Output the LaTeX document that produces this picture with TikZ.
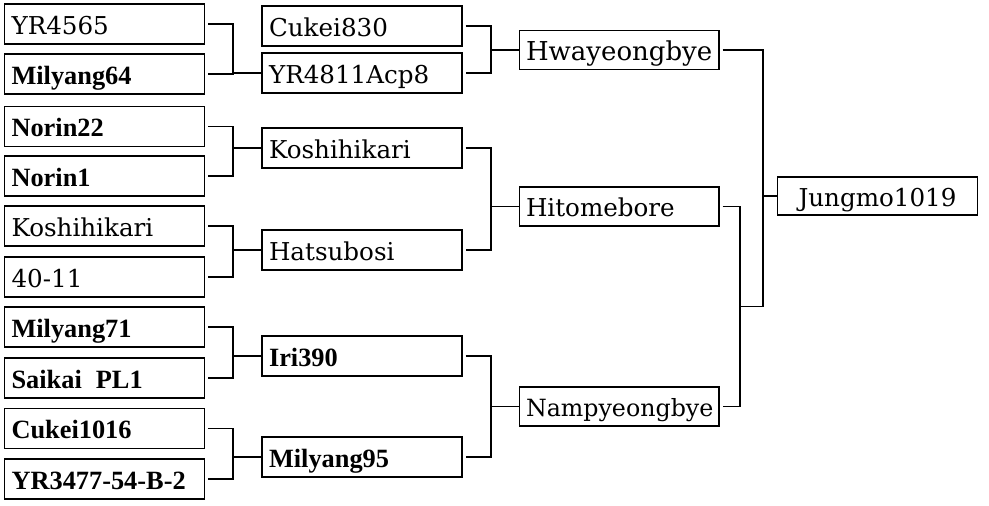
\documentclass[tikz,border=0pt]{standalone}
\usepackage{fontspec}
\setmainfont{DejaVu Serif}
\newfontfamily\heavyserif{Liberation Serif}
\usetikzlibrary{calc}
\tikzset{
  cultivar/.style={
    draw,
    line width=0.6pt,
    minimum width=4cm,
    minimum height=0.8cm,
    inner xsep=0.14cm,
    text width=3.72cm,
    align=left,
    text height=12pt,
    text depth=0.6pt,
    font=\fontsize{14}{16}\selectfont
  },
  cultivarBold/.style={
    cultivar,
    font=\heavyserif\bfseries\fontsize{15}{17}\selectfont
  },
  pairLine/.style={line width=0.6pt},
  pairStub/.style={pairLine, shorten <=0.06cm},
  pairLink/.style={pairStub, shorten >=0.06cm}
}
\begin{document}
\begin{tikzpicture}[x=0.02cm, y=-0.02cm]
  \useasboundingbox (0,0) rectangle (989,506);
  % parents
  \node[cultivar] (yr4565) at (104.5,24) {YR4565};
  \node[cultivarBold] (milyang64) at (104.5,74) {Milyang64};
  \node[cultivarBold] (norin22) at (104.5,126.5) {Norin22};
  \node[cultivarBold] (norin1) at (104.5,176) {Norin1};
  \node[cultivar] (koshihikariA) at (104.5,226) {Koshihikari};
  \node[cultivar] (line4011) at (104.5,277) {40-11};
  \node[cultivarBold] (milyang71) at (104.5,327) {Milyang71};
  \node[cultivarBold] (saikai) at (104.5,378) {Saikai\hspace{8pt}PL1};
  \node[cultivarBold] (cukei1016) at (104.5,428.5) {Cukei1016};
  \node[cultivarBold] (yr3477) at (104.5,479) {YR3477-54-B-2};
  % second generation
  \node[cultivar] (cukei830) at (362,26) {Cukei830};
  \node[cultivar] (yr4811) at (362,73) {YR4811Acp8};
  \node[cultivar] (koshihikariB) at (362,148) {Koshihikari};
  \node[cultivar] (hatsubosi) at (362,250) {Hatsubosi};
  \node[cultivarBold] (iri390) at (362,356) {Iri390};
  \node[cultivarBold] (milyang95) at (362,457) {Milyang95};
  % third generation
  \node[cultivar, minimum height=0.78cm, font=\fontsize{14.8}{17}\selectfont] (hwayeongbye) at (619,50) {Hwayeongbye};
  \node[cultivar, minimum height=0.78cm] (hitomebore) at (619,206.5) {Hitomebore};
  \node[cultivar, minimum height=0.78cm, font=\fontsize{13.5}{16}\selectfont] (nampyeongbye) at (619,406.5) {Nampyeongbye};
  \node[cultivar, minimum height=0.76cm, align=center] (jungmo) at (877.5,196) {Jungmo1019};
  \coordinate (v1) at (233,0);
  \coordinate (v2) at (491,0);
  \coordinate (v3) at (740,0);
  \coordinate (v4) at (763,0);
  % crosses into second generation
  \draw[pairLink] (yr4565.east) -- (yr4565.east -| v1) -- (milyang64.east -| v1) -- (milyang64.east);
  \draw[pairLine] (yr4811.west -| v1) -- (yr4811.west);
  \draw[pairLink] (norin22.east) -- (norin22.east -| v1) -- (norin1.east -| v1) -- (norin1.east);
  \draw[pairLine] (koshihikariB.west -| v1) -- (koshihikariB.west);
  \draw[pairLink] (koshihikariA.east) -- (koshihikariA.east -| v1) -- (line4011.east -| v1) -- (line4011.east);
  \draw[pairLine] (hatsubosi.west -| v1) -- (hatsubosi.west);
  \draw[pairLink] (milyang71.east) -- (milyang71.east -| v1) -- (saikai.east -| v1) -- (saikai.east);
  \draw[pairLine] (iri390.west -| v1) -- (iri390.west);
  \draw[pairLink] (cukei1016.east) -- (cukei1016.east -| v1) -- (yr3477.east -| v1) -- (yr3477.east);
  \draw[pairLine] (milyang95.west -| v1) -- (milyang95.west);
  % crosses into third generation
  \draw[pairLink] (cukei830.east) -- (cukei830.east -| v2) -- (yr4811.east -| v2) -- (yr4811.east);
  \draw[pairLine] (hwayeongbye.west -| v2) -- (hwayeongbye.west);
  \draw[pairLink] (koshihikariB.east) -- (koshihikariB.east -| v2) -- (hatsubosi.east -| v2) -- (hatsubosi.east);
  \draw[pairLine] (hitomebore.west -| v2) -- (hitomebore.west);
  \draw[pairLink] (iri390.east) -- (iri390.east -| v2) -- (milyang95.east -| v2) -- (milyang95.east);
  \draw[pairLine] (nampyeongbye.west -| v2) -- (nampyeongbye.west);
  % final cross
  \draw[pairLink] (hitomebore.east) -- (hitomebore.east -| v3) -- (nampyeongbye.east -| v3) -- (nampyeongbye.east);
  \coordinate (j3) at ($(hitomebore.east -| v3)!0.5!(nampyeongbye.east -| v3)$);
  \draw[pairStub] (hwayeongbye.east) -- (hwayeongbye.east -| v4) -- (j3 -| v4) -- (j3);
  \draw[pairLine] (jungmo.west -| v4) -- (jungmo.west);
\end{tikzpicture}
\end{document}
